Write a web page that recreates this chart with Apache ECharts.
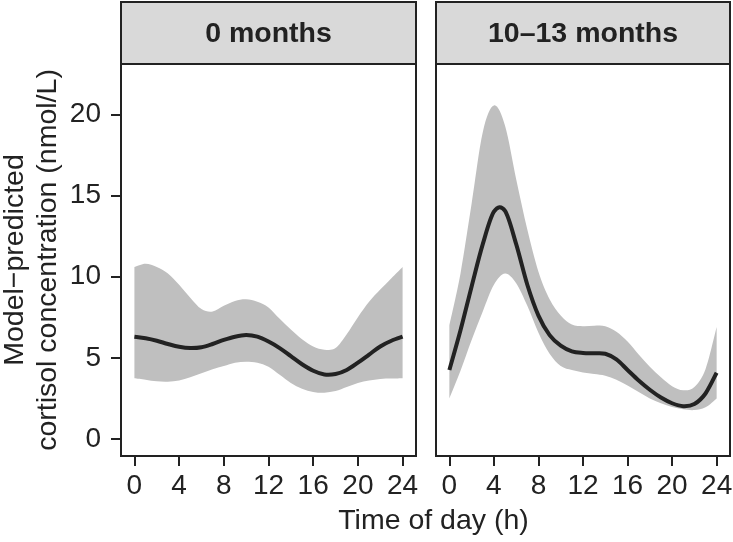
<!DOCTYPE html>
<html>
<head>
<meta charset="utf-8">
<script src="https://cdn.jsdelivr.net/npm/echarts@6/dist/echarts.min.js"></script>
<style>
  html, body { margin: 0; padding: 0; background: #fff; }
  #chart { width: 733px; height: 542px; }
</style>
</head>
<body>
<div id="chart"></div>
<script>
// ---- data ----
const hours = [0,1,2,3,4,5,6,7,8,9,10,11,12,13,14,15,16,17,18,19,20,21,22,23,24];

const panelTitles = ["0 months", "10\u201313 months"];

// 0 months
const fit0   = [6.3,6.2,6.05,5.85,5.68,5.6,5.65,5.85,6.1,6.3,6.4,6.3,6.0,5.6,5.1,4.6,4.2,3.97,4.0,4.25,4.7,5.2,5.7,6.05,6.3];
const upper0 = [10.6,10.8,10.6,10.2,9.5,8.7,8.0,7.85,8.2,8.5,8.6,8.45,8.1,7.4,6.75,6.15,5.7,5.5,5.6,6.45,7.5,8.45,9.2,9.9,10.6];
const lower0 = [3.74,3.65,3.55,3.53,3.6,3.8,4.05,4.3,4.5,4.7,4.76,4.7,4.45,3.95,3.45,3.1,2.9,2.85,2.95,3.2,3.45,3.6,3.7,3.72,3.74];

// 10-13 months
const fit1   = [4.25,6.7,9.4,12.0,14.0,14.05,12.0,9.5,7.6,6.4,5.75,5.4,5.3,5.28,5.25,4.9,4.25,3.6,3.03,2.55,2.2,2.02,2.15,2.8,4.08];
const upper1 = [7.0,10.2,14.5,18.9,20.55,19.3,16.0,12.9,10.3,8.6,7.6,7.05,6.95,6.98,6.95,6.6,6.0,5.2,4.45,3.8,3.25,3.0,3.2,4.3,6.9];
const lower1 = [2.5,4.2,6.1,7.85,9.5,10.2,9.6,8.2,6.55,5.25,4.5,4.25,4.1,4.0,3.9,3.65,3.3,2.9,2.5,2.2,1.97,1.83,1.78,1.95,2.5];

const xTicks = [0,4,8,12,16,20,24];
const yTicks = [0,5,10,15,20];

const yTitle = "Model\u2212predicted\ncortisol concentration (nmol/L)";
const xTitle = "Time of day (h)";

// ---- chart ----
const FONT = '"Liberation Sans", Arial, Helvetica, sans-serif';
const INK = '#222222';
const BAND = '#bfbfbf';
const STRIP = '#d9d9d9';

const panels = [
  { left: 121, width: 295, fit: fit0, upper: upper0, lower: lower0 },
  { left: 436, width: 294, fit: fit1, upper: upper1, lower: lower1 }
];
const TOP = 64, HEIGHT = 392, STRIP_TOP = 2;

// Catmull-Rom spline through pixel points -> SVG path segments (rendering only)
function splineSegs(pts) {
  let d = '';
  const n = pts.length;
  for (let i = 0; i < n - 1; i++) {
    const p0 = pts[Math.max(i - 1, 0)], p1 = pts[i], p2 = pts[i + 1], p3 = pts[Math.min(i + 2, n - 1)];
    const c1x = p1[0] + (p2[0] - p0[0]) / 6, c1y = p1[1] + (p2[1] - p0[1]) / 6;
    const c2x = p2[0] - (p3[0] - p1[0]) / 6, c2y = p2[1] - (p3[1] - p1[1]) / 6;
    d += ' C' + c1x + ' ' + c1y + ' ' + c2x + ' ' + c2y + ' ' + p2[0] + ' ' + p2[1];
  }
  return d;
}

const grids = [], xAxes = [], yAxes = [], series = [], graphics = [];

panels.forEach((p, k) => {
  grids.push({
    left: p.left, top: TOP, width: p.width, height: HEIGHT,
    outerBoundsMode: 'none', containLabel: false, show: false
  });
  xAxes.push({
    type: 'value', gridIndex: k, min: -1.2, max: 25.2,
    axisLine: { show: false, onZero: false },
    splitLine: { show: false },
    axisTick: { show: true, inside: false, length: 10, customValues: xTicks, lineStyle: { color: INK, width: 2 } },
    axisLabel: { show: true, customValues: xTicks, margin: 16, fontSize: 28, color: INK, fontFamily: FONT }
  });
  yAxes.push({
    type: 'value', gridIndex: k, min: -1.05, max: 23.1,
    axisLine: { show: false, onZero: false },
    splitLine: { show: false },
    axisTick: { show: k === 0, inside: false, length: 10, customValues: yTicks, lineStyle: { color: INK, width: 2 } },
    axisLabel: { show: k === 0, customValues: yTicks, margin: 20, fontSize: 28, color: INK, fontFamily: FONT },
    name: k === 0 ? yTitle : '',
    nameLocation: 'middle', nameRotate: 90, nameGap: 56,
    nameTextStyle: { fontSize: 28.5, lineHeight: 33, color: INK, fontFamily: FONT }
  });

  const rows = hours.map((h, i) => [h, p.lower[i], p.upper[i], p.fit[i]]);

  // confidence band
  series.push({
    type: 'custom', xAxisIndex: k, yAxisIndex: k, silent: true, z: 1,
    data: rows,
    encode: { x: 0, y: [1, 2] },
    renderItem: function (params, api) {
      if (params.dataIndex !== 0) return null;
      const up = rows.map(r => api.coord([r[0], r[2]]));
      const lo = rows.map(r => api.coord([r[0], r[1]])).reverse();
      const d = 'M' + up[0][0] + ' ' + up[0][1] + splineSegs(up) +
                ' L' + lo[0][0] + ' ' + lo[0][1] + splineSegs(lo) + ' Z';
      return { type: 'path', shape: { pathData: d }, style: { fill: BAND, stroke: null } };
    }
  });
  // fitted curve
  series.push({
    type: 'custom', xAxisIndex: k, yAxisIndex: k, silent: true, z: 3,
    data: rows,
    encode: { x: 0, y: 3 },
    renderItem: function (params, api) {
      if (params.dataIndex !== 0) return null;
      const pts = rows.map(r => api.coord([r[0], r[3]]));
      const d = 'M' + pts[0][0] + ' ' + pts[0][1] + splineSegs(pts);
      return { type: 'path', shape: { pathData: d }, style: { fill: null, stroke: INK, lineWidth: 4, lineJoin: 'round' } };
    }
  });

  // panel box
  graphics.push({
    type: 'rect', z: 100,
    shape: { x: p.left, y: TOP, width: p.width, height: HEIGHT },
    style: { fill: null, stroke: INK, lineWidth: 2 }
  });
  // strip header
  graphics.push({
    type: 'rect', z: 100,
    shape: { x: p.left, y: STRIP_TOP, width: p.width, height: TOP - STRIP_TOP },
    style: { fill: STRIP, stroke: INK, lineWidth: 2 }
  });
  graphics.push({
    type: 'text', z: 101,
    x: p.left + p.width / 2, y: (STRIP_TOP + TOP) / 2 + 1,
    style: {
      text: panelTitles[k], fill: INK, font: 'bold 28.5px ' + FONT,
      textAlign: 'center', textVerticalAlign: 'middle'
    }
  });
});

graphics.push({
  type: 'text', x: 433.5, y: 521,
  style: { text: xTitle, fill: INK, font: '28.5px ' + FONT, textAlign: 'center', textVerticalAlign: 'middle' }
});

const chart = echarts.init(document.getElementById('chart'), null, { renderer: 'canvas' });
chart.setOption({
  animation: false,
  backgroundColor: '#fff',
  grid: grids,
  xAxis: xAxes,
  yAxis: yAxes,
  series: series,
  graphic: graphics
});
</script>
</body>
</html>
